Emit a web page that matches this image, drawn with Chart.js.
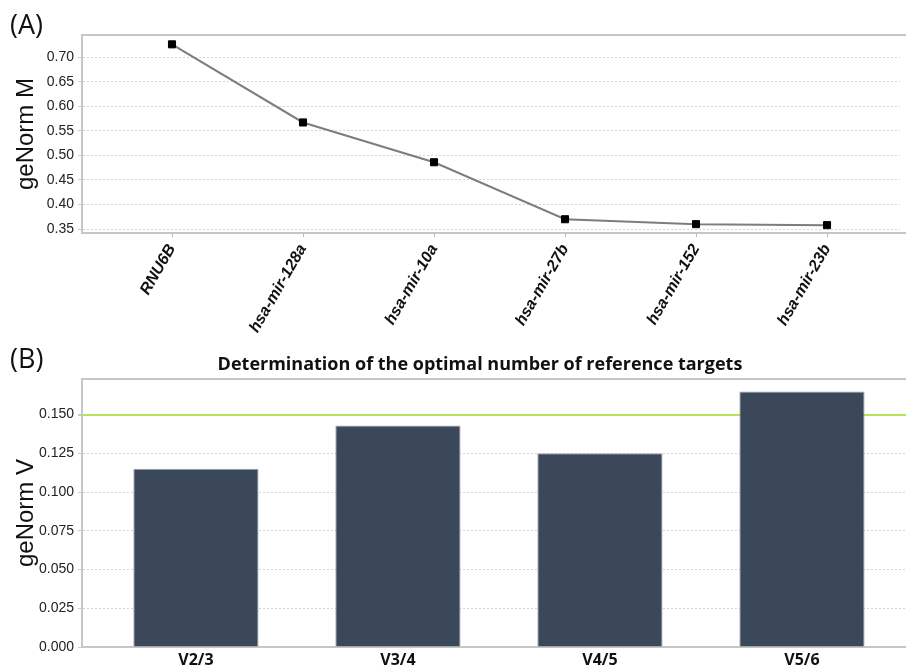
<!DOCTYPE html>
<html>
<head>
<meta charset="utf-8">
<script src="https://cdn.jsdelivr.net/npm/chart.js@4.4.0/dist/chart.umd.min.js"></script>
<style>
  body { margin: 0; background: #fff; }
  #wrap { position: relative; width: 906px; height: 670px; overflow: hidden; }
  canvas { position: absolute; left: 0; }
  #grafico-m { top: 0; }
  #grafico-v { top: 340px; }
  .painel { position: absolute; left: 10px; font-family: "Open Sans", sans-serif; font-size: 27px; color: #111; line-height: 1; }
  #titulo-v { position: absolute; left: 130px; width: 700px; top: 351px; text-align: center;
              font-family: "Open Sans", sans-serif; font-weight: bold; font-size: 18px; color: #111; line-height: 24px; }
</style>
</head>
<body>
<div id="wrap">
  <canvas id="grafico-m" width="906" height="345"></canvas>
  <canvas id="grafico-v" width="906" height="330"></canvas>
  <div class="painel" style="top:10px">(A)</div>
  <div class="painel" style="top:344px">(B)</div>
  <div id="titulo-v">Determination of the optimal number of reference targets</div>
</div>
<script>
const genes = ['RNU6B', 'hsa-mir-128a', 'hsa-mir-10a', 'hsa-mir-27b', 'hsa-mir-152', 'hsa-mir-23b'];
const valoresM = [0.726, 0.567, 0.486, 0.370, 0.360, 0.358];

const pares = ['V2/3', 'V3/4', 'V4/5', 'V5/6'];
const valoresV = [0.115, 0.143, 0.125, 0.165];
const limiteV = 0.15;

const corMoldura = '#c6c6c6';
const corGrade = '#d4d4d4';

// moldura: linha de cima e prolongamento da linha de baixo ate a borda
const moldura = {
    id: 'moldura',
    afterDraw(chart) {
        const { ctx, chartArea } = chart;
        ctx.save();
        ctx.strokeStyle = corMoldura;
        ctx.lineWidth = 2;
        ctx.beginPath();
        ctx.moveTo(chartArea.left - 1, chartArea.top);
        ctx.lineTo(chart.width, chartArea.top);
        ctx.moveTo(chartArea.right - 1, chartArea.bottom);
        ctx.lineTo(chart.width, chartArea.bottom);
        ctx.stroke();
        ctx.restore();
    }
};

const ehLimite = c => c.tick && Math.abs(c.tick.value - limiteV) < 1e-9;

new Chart(document.getElementById('grafico-m'), {
    type: 'line',
    data: {
        datasets: [{
            data: genes.map((g, i) => ({ x: i, y: valoresM[i] })),
            borderColor: '#7d7d7d',
            borderWidth: 2,
            pointStyle: 'rect',
            pointRadius: 5,
            pointBackgroundColor: '#000',
            pointBorderColor: '#000',
            pointBorderWidth: 1,
            tension: 0
        }]
    },
    options: {
        responsive: false,
        animation: false,
        layout: { padding: { top: 35, right: 0, left: 0, bottom: 0 } },
        plugins: { legend: { display: false }, tooltip: { enabled: false } },
        scales: {
            x: {
                type: 'linear',
                offset: false,
                min: -0.687,
                max: 5.557,
                afterFit: s => { s.height = 112; },
                ticks: {
                    stepSize: 1,
                    includeBounds: false,
                    autoSkip: false,
                    minRotation: 60,
                    maxRotation: 60,
                    padding: 4,
                    color: '#111',
                    font: { family: 'Liberation Sans', size: 16, weight: 'bold', style: 'italic' },
                    callback: v => genes[v] ?? ''
                },
                grid: { drawOnChartArea: false, tickLength: 4, tickColor: '#bbb' },
                border: { color: corMoldura, width: 2 }
            },
            y: {
                min: 0.342,
                max: 0.745,
                afterFit: s => { s.width = 82; },
                ticks: {
                    stepSize: 0.05,
                    includeBounds: false,
                    padding: 4,
                    color: '#222',
                    font: { family: 'Liberation Sans', size: 14 },
                    callback: v => v.toFixed(2)
                },
                grid: { color: corGrade, tickLength: 4, tickColor: '#ccc' },
                border: { color: corMoldura, width: 2, dash: [2, 2] },
                title: {
                    display: true,
                    text: 'geNorm M',
                    color: '#111',
                    font: { family: 'Liberation Sans', size: 24 },
                    padding: { top: 12, bottom: 0 }
                }
            }
        }
    },
    plugins: [moldura]
});

new Chart(document.getElementById('grafico-v'), {
    type: 'bar',
    data: {
        datasets: [{
            data: pares.map((p, i) => ({ x: i, y: valoresV[i] })),
            backgroundColor: '#3b4859',
            borderColor: '#9aa3ad',
            borderWidth: 1,
            barPercentage: 0.62,
            categoryPercentage: 1
        }]
    },
    options: {
        responsive: false,
        animation: false,
        layout: { padding: { top: 39, right: 0, left: 0, bottom: 0 } },
        plugins: { legend: { display: false }, tooltip: { enabled: false } },
        scales: {
            x: {
                type: 'linear',
                offset: false,
                min: -0.564,
                max: 3.515,
                afterFit: s => { s.height = 23; },
                ticks: {
                    stepSize: 1,
                    includeBounds: false,
                    autoSkip: false,
                    maxRotation: 0,
                    padding: 4,
                    color: '#111',
                    font: { family: 'Open Sans', size: 16, weight: 'bold' },
                    callback: v => pares[v] ?? ''
                },
                grid: { display: false, drawTicks: false },
                border: { color: corMoldura, width: 2 }
            },
            y: {
                min: 0,
                max: 0.173,
                afterFit: s => { s.width = 82; },
                ticks: {
                    stepSize: 0.025,
                    includeBounds: false,
                    padding: 4,
                    color: '#222',
                    font: { family: 'Liberation Sans', size: 14 },
                    callback: v => v.toFixed(3)
                },
                grid: {
                    color: c => ehLimite(c) ? '#b6e35c' : corGrade,
                    lineWidth: c => ehLimite(c) ? 2 : 1,
                    tickLength: 4,
                    tickColor: '#ccc'
                },
                border: { color: corMoldura, width: 2, dash: c => ehLimite(c) ? [] : [2, 2] },
                title: {
                    display: true,
                    text: 'geNorm V',
                    color: '#111',
                    font: { family: 'Liberation Sans', size: 24 },
                    padding: { top: 12, bottom: 0 }
                }
            }
        }
    },
    plugins: [moldura]
});
</script>
</body>
</html>
